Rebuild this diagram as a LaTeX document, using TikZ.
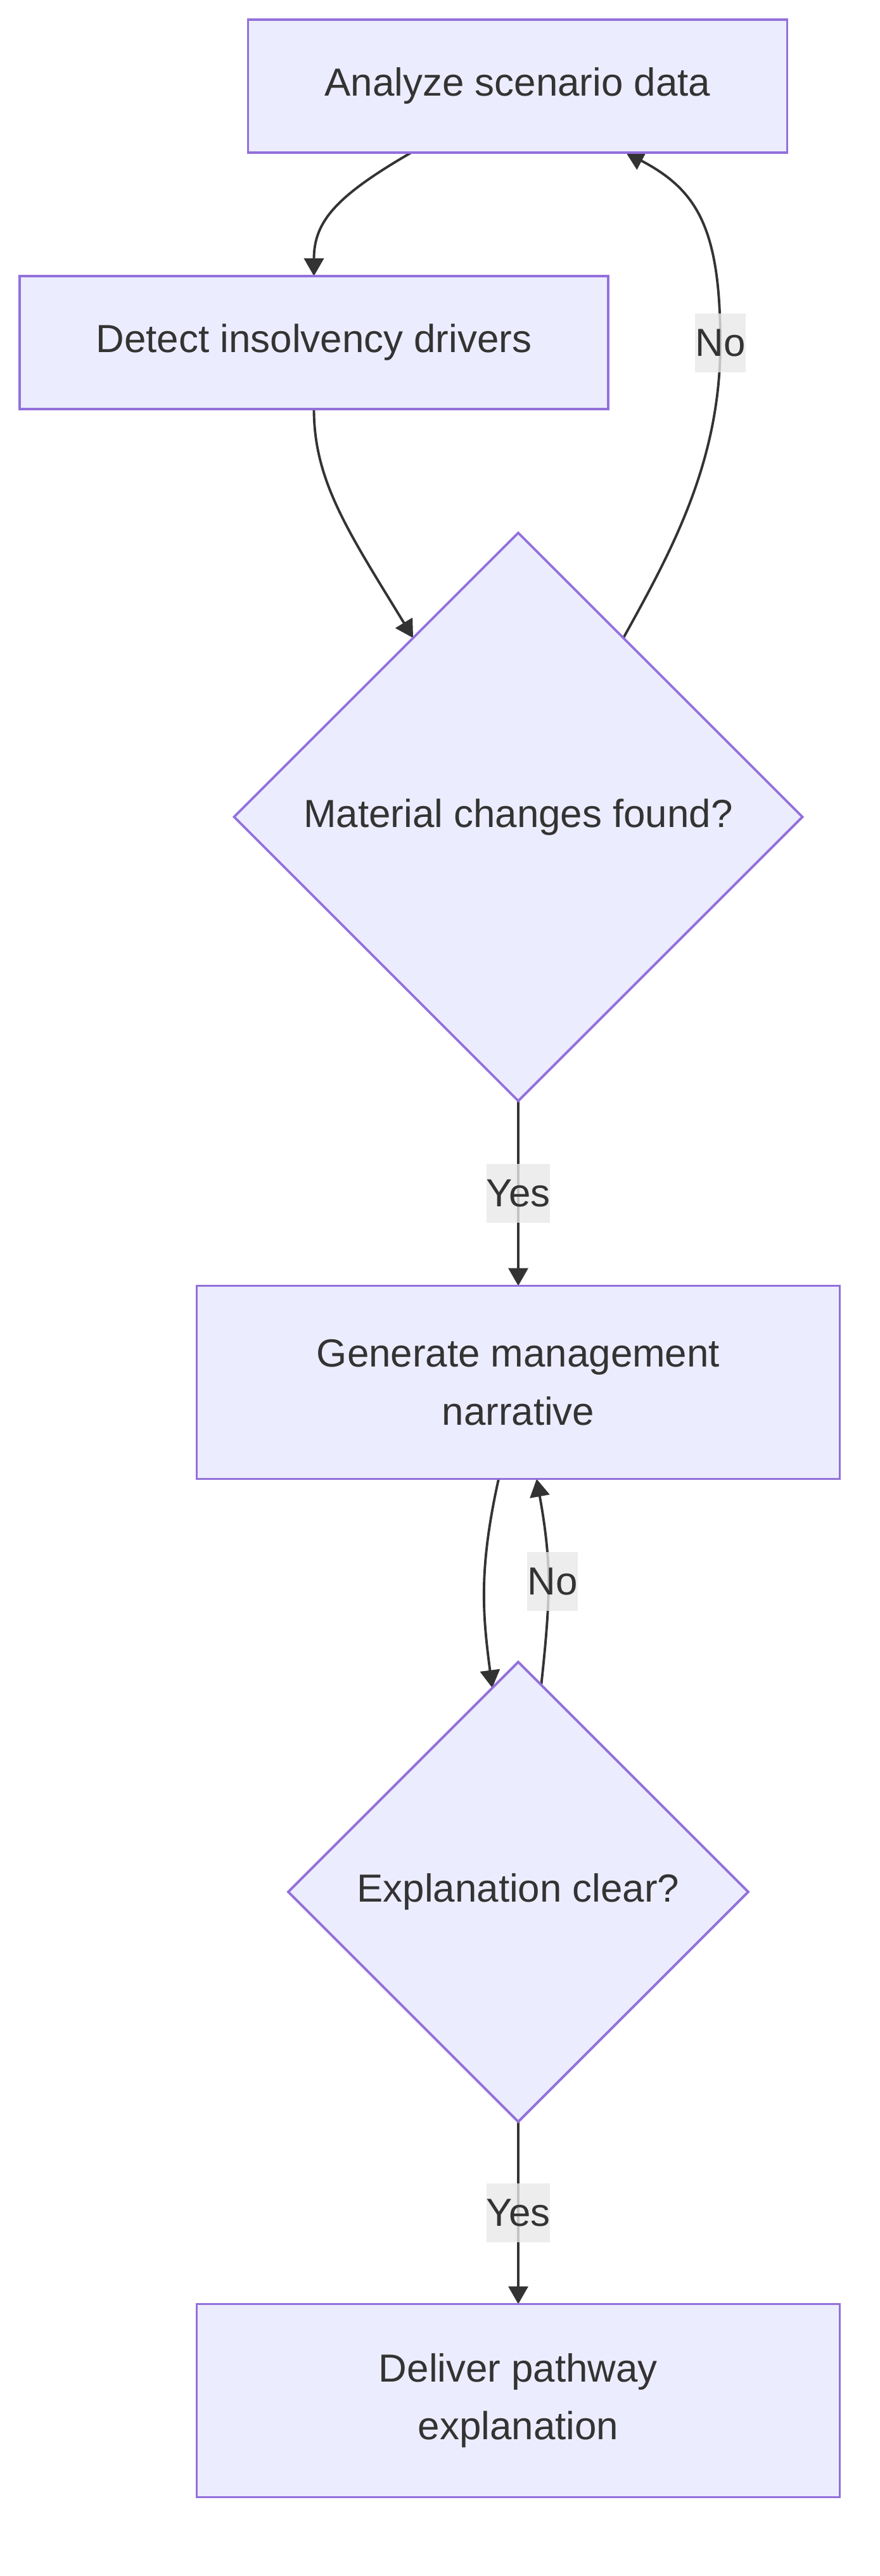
\documentclass[tikz,border=0pt]{standalone}
\usepackage{fontspec}
\setmainfont{Liberation Sans}
\usetikzlibrary{shapes.geometric, arrows.meta, positioning, calc, backgrounds}
\definecolor{nodefill}{RGB}{236, 236, 255}
\definecolor{nodeborder}{RGB}{147, 112, 219}
\definecolor{textgray}{RGB}{51, 51, 51}
\definecolor{edgegray}{RGB}{51, 51, 51}
\definecolor{labelgray}{RGB}{232, 232, 232}
\tikzset{
    procbox/.style={
        draw=nodeborder,
        fill=nodefill,
        line width=1.1pt,
        minimum width=#1,
        minimum height=2.10cm,
        inner sep=0pt,
        outer sep=0pt,
        align=center,
        text=textgray,
        font=\fontsize{17.6}{27}\selectfont,
    },
    procbox/.default=8.51cm,
    decision/.style={
        diamond,
        aspect=1,
        draw=nodeborder,
        fill=nodefill,
        line width=1.1pt,
        minimum width=#1,
        minimum height=#1,
        inner sep=0pt,
        outer sep=0pt,
        text=textgray,
        font=\fontsize{17.6}{27}\selectfont,
    },
    arrow/.style={
        -{Triangle[length=0.28cm, width=0.31cm]},
        line width=1.1pt,
        color=edgegray,
    },
    edgelabel/.style={
        fill=labelgray,
        fill opacity=0.8,
        text opacity=1,
        text=textgray,
        inner sep=0pt,
        minimum height=0.93cm,
        font=\fontsize{17.6}{27}\selectfont,
    },
}

\begin{document}
\begin{tikzpicture}
\useasboundingbox (0,0) rectangle (13.88,-40.68);

% ===== Nodes =====
\node[procbox=8.51cm] (analyze) at (8.17,-1.36) {Analyze scenario data};
\node[procbox=9.29cm] (detect) at (4.955,-5.41) {Detect insolvency drivers};
\node[decision=8.97cm] (material) at (8.18,-12.90) {Material changes found?};
\node[procbox=10.15cm, minimum height=3.05cm, below=2.92cm of material] (generate) {Generate management\\[-1pt]narrative};
\node[decision=7.26cm, below=2.89cm of generate] (clear) {Explanation clear?};
\node[procbox=10.15cm, minimum height=3.05cm, below=2.88cm of clear] (deliver) {Deliver pathway\\[-1pt]explanation};

% label points on the loops
\coordinate (no1) at (11.37,-5.42);
\coordinate (no2) at (8.66,-24.97);

% ===== Edges (behind the nodes) =====
\begin{scope}[on background layer]
\draw[arrow] ([xshift=-1.68cm]analyze.south) .. controls (5.3,-3.1) and (4.955,-3.5) .. (detect.north);
\draw[arrow] (detect.south) .. controls (4.955,-7.6) and (5.5,-8.4) .. ($(material.west)!0.63!(material.north)$);
\draw[arrow] ($(material.north)!0.37!(material.east)$) .. controls (10.6,-8.7) and (11.37,-7.3) .. (no1)
    .. controls (11.37,-3.6) and (11.0,-3.0) .. ([xshift=1.71cm]analyze.south);
\draw[arrow] (material) -- (generate);
\draw[arrow] ([xshift=-0.31cm]generate.south) .. controls (7.55,-24.8) and (7.62,-25.5) .. ($(clear.west)!0.887!(clear.north)$);
\draw[arrow] ($(clear.north)!0.10!(clear.east)$) .. controls (8.62,-25.9) and (8.66,-25.4) .. (no2)
    .. controls (8.66,-24.4) and (8.55,-23.8) .. ([xshift=0.29cm]generate.south);
\draw[arrow] (clear) -- (deliver);
\end{scope}

% ===== Edge labels =====
\node[edgelabel] (yes1) at ($(material.south)!0.5!(generate.north)$) {Yes};
\node[edgelabel] (nolab1) at (no1) {No};
\node[edgelabel] (nolab2) at ([xshift=0.06cm]no2) {No};
\node[edgelabel] (yes2) at ($(clear.south)!0.5!(deliver.north)$) {Yes};

\end{tikzpicture}
\end{document}
